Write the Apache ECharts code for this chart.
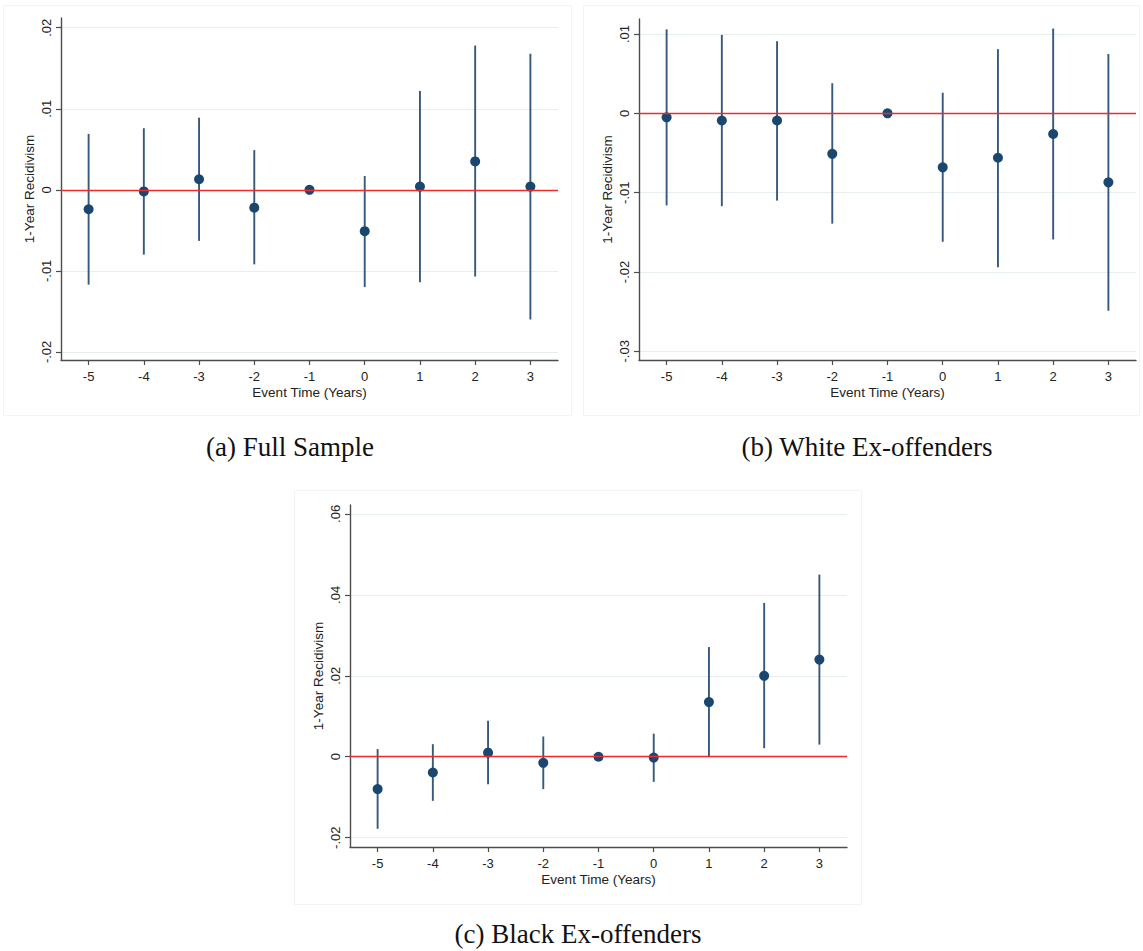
<!DOCTYPE html>
<html>
<head>
<meta charset="utf-8">
<script src="https://cdn.jsdelivr.net/npm/echarts@6/dist/echarts.min.js"></script>
<style>
html,body{margin:0;padding:0;background:#ffffff;}
#chart{width:1143px;height:951px;}
</style>
</head>
<body>
<div id="chart"></div>
<script>
// ---- data ----
const eventTime = [-5, -4, -3, -2, -1, 0, 1, 2, 3];

const fullCoef  = [-0.0024, -0.0002, 0.0013, -0.0022, 0, -0.0051, 0.0004, 0.0035, 0.0004];
const fullLower = [-0.0117, -0.0080, -0.0063, -0.0092, null, -0.0120, -0.0114, -0.0107, -0.0160];
const fullUpper = [0.0069, 0.0076, 0.0089, 0.0049, null, 0.0017, 0.0122, 0.0178, 0.0168];

const whiteCoef  = [-0.0005, -0.0009, -0.0009, -0.0051, 0, -0.0068, -0.0056, -0.0026, -0.0087];
const whiteLower = [-0.0116, -0.0117, -0.0110, -0.0139, null, -0.0162, -0.0194, -0.0159, -0.0249];
const whiteUpper = [0.0106, 0.0099, 0.0091, 0.0038, null, 0.0026, 0.0081, 0.0107, 0.0075];

const blackCoef  = [-0.0080, -0.0039, 0.0010, -0.0015, 0, -0.0002, 0.0135, 0.0200, 0.0240];
const blackLower = [-0.0178, -0.0109, -0.0068, -0.0080, null, -0.0062, -0.0001, 0.0021, 0.0030];
const blackUpper = [0.0019, 0.0031, 0.0089, 0.0050, null, 0.0057, 0.0271, 0.0380, 0.0450];

const yTicksFull  = [-0.02, -0.01, 0, 0.01, 0.02];
const yTicksWhite = [-0.03, -0.02, -0.01, 0, 0.01];
const yTicksBlack = [-0.02, 0, 0.02, 0.04, 0.06];

const captions = ['(a) Full Sample', '(b) White Ex-offenders', '(c) Black Ex-offenders'];
const xTitle = 'Event Time (Years)';
const yTitle = '1-Year Recidivism';

// ---- styling / layout ----
const navy = '#1a476f';
const ciColor = '#36597d';
const axisColor = '#4d4d4d';
const gridColor = '#e6eef0';
const sans = '"Liberation Sans", Arial, sans-serif';

const panels = [
  { coef: fullCoef,  lo: fullLower,  hi: fullUpper,  ticks: yTicksFull,  ymin: -0.0210, ymax: 0.0212,
    grid: { left: 61, top: 18, width: 497, height: 342 } },
  { coef: whiteCoef, lo: whiteLower, hi: whiteUpper, ticks: yTicksWhite, ymin: -0.0311, ymax: 0.0119,
    grid: { left: 639, top: 19, width: 497, height: 341 } },
  { coef: blackCoef, lo: blackLower, hi: blackUpper, ticks: yTicksBlack, ymin: -0.0223, ymax: 0.0622,
    grid: { left: 350, top: 505, width: 497, height: 342 } }
];

function yFmt(v) {
  if (Math.abs(v) < 1e-12) return '0';
  const s = String(Math.abs(+v.toFixed(4))).replace(/^0/, '');
  return (v < 0 ? '-' : '') + s;
}

function ciRender(params, api) {
  const x = api.value(0), lo = api.value(1), hi = api.value(2);
  const p1 = api.coord([x, lo]);
  const p2 = api.coord([x, hi]);
  return {
    type: 'line',
    shape: { x1: p1[0], y1: p1[1], x2: p2[0], y2: p2[1] },
    style: { stroke: ciColor, lineWidth: 1.9 }
  };
}

const grids = [], xAxes = [], yAxes = [], series = [];
panels.forEach((p, i) => {
  grids.push(Object.assign({ outerBoundsMode: 'none', containLabel: false }, p.grid));
  xAxes.push({
    type: 'value', gridIndex: i, min: -5.5, max: 3.5,
    axisLine: { onZero: false, lineStyle: { color: axisColor, width: 1.4 } },
    axisTick: { show: true, customValues: eventTime, length: 5, lineStyle: { color: axisColor, width: 1.2 } },
    axisLabel: { customValues: eventTime, formatter: v => String(v), color: '#222', fontFamily: sans, fontSize: 13, margin: 10 },
    splitLine: { show: false },
    name: xTitle, nameLocation: 'middle', nameGap: 25,
    nameTextStyle: { color: '#222', fontFamily: sans, fontSize: 13.5 }
  });
  yAxes.push({
    type: 'value', gridIndex: i, min: p.ymin, max: p.ymax,
    axisLine: { show: true, onZero: false, lineStyle: { color: axisColor, width: 1.4 } },
    axisTick: { show: true, customValues: p.ticks, length: 5, lineStyle: { color: axisColor, width: 1.2 } },
    axisLabel: { customValues: p.ticks, formatter: yFmt, rotate: 90, color: '#222', fontFamily: sans, fontSize: 13, margin: 8 },
    splitLine: { show: true, lineStyle: { color: gridColor, width: 1.2 } },
    name: yTitle, nameLocation: 'middle', nameRotate: 90, nameGap: 25,
    nameTextStyle: { color: '#222', fontFamily: sans, fontSize: 13.5 }
  });
  // zero reference line
  series.push({
    type: 'line', xAxisIndex: i, yAxisIndex: i, data: [], z: 2, silent: true,
    markLine: {
      silent: true, symbol: 'none', animation: false,
      label: { show: false },
      lineStyle: { color: '#ee2a2a', width: 1.4, type: 'solid' },
      data: [{ yAxis: 0 }]
    }
  });
  // confidence intervals
  const ciData = [];
  eventTime.forEach((t, k) => {
    if (p.lo[k] !== null && p.hi[k] !== null) ciData.push([t, p.lo[k], p.hi[k]]);
  });
  series.push({
    type: 'custom', xAxisIndex: i, yAxisIndex: i, z: 3, silent: true,
    renderItem: ciRender, data: ciData, encode: { x: 0, y: [1, 2] }
  });
  // point estimates
  series.push({
    type: 'scatter', xAxisIndex: i, yAxisIndex: i, z: 4, silent: true,
    symbol: 'circle', symbolSize: 10,
    itemStyle: { color: navy, opacity: 1 },
    data: eventTime.map((t, k) => [t, p.coef[k]])
  });
});

const capFont = '27px "Liberation Serif", "Times New Roman", serif';
const chart = echarts.init(document.getElementById('chart'), null, { renderer: 'svg' });
chart.setOption({
  animation: false,
  backgroundColor: '#ffffff',
  grid: grids,
  xAxis: xAxes,
  yAxis: yAxes,
  series: series,
  graphic: [
    { type: 'rect', z: -10, silent: true, shape: { x: 3.5, y: 5.5, width: 568, height: 410 },
      style: { fill: '#ffffff', stroke: '#f3f3f3', lineWidth: 1 } },
    { type: 'rect', z: -10, silent: true, shape: { x: 583.5, y: 5.5, width: 556, height: 410 },
      style: { fill: '#ffffff', stroke: '#f3f3f3', lineWidth: 1 } },
    { type: 'rect', z: -10, silent: true, shape: { x: 294.5, y: 490.5, width: 567, height: 414 },
      style: { fill: '#ffffff', stroke: '#f3f3f3', lineWidth: 1 } },
    { type: 'text', x: 290, y: 447, silent: true,
      style: { text: captions[0], align: 'center', verticalAlign: 'middle', font: capFont, fill: '#111' } },
    { type: 'text', x: 867, y: 447, silent: true,
      style: { text: captions[1], align: 'center', verticalAlign: 'middle', font: capFont, fill: '#111' } },
    { type: 'text', x: 578, y: 934, silent: true,
      style: { text: captions[2], align: 'center', verticalAlign: 'middle', font: capFont, fill: '#111' } }
  ]
});
</script>
</body>
</html>
